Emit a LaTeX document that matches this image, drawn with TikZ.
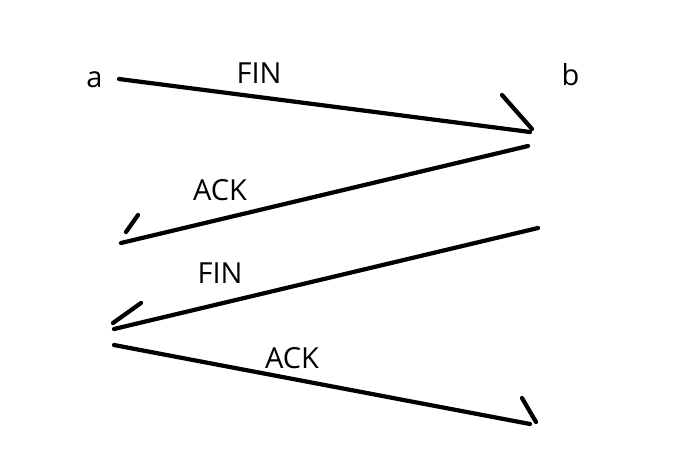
\documentclass[tikz,border=0pt]{standalone}
\usepackage{fontspec}
\setmainfont{Open Sans}
\tikzset{
  msg/.style={line width=2.4pt,line cap=round},
  lbl/.style={anchor=base,inner sep=0pt,font=\fontsize{16.5}{19}\selectfont}
}
\begin{document}
\begin{tikzpicture}[x=0.02cm,y=-0.02cm]
    \useasboundingbox (0,0) rectangle (682,471);
    % hosts
    \node[lbl] (a) at (94.5,87) {a};
    \node[lbl] (b) at (570.5,85) {b};
    % end points of the strokes
    \coordinate (s1) at (119,79);   \coordinate (e1) at (530,132);
    \coordinate (s2) at (528,146);  \coordinate (e2) at (121,243);
    \coordinate (s3) at (538,228);  \coordinate (e3) at (114,329);
    \coordinate (s4) at (114,345);  \coordinate (e4) at (530,424);
    % FIN: a to b
    \draw[msg] (s1) -- (e1);
    \draw[msg] (502,95) -- (532,129);
    \node[lbl] (fin1) at (259,83) {FIN};
    % ACK: b to a
    \draw[msg] (s2) -- (e2);
    \draw[msg] (138,215) -- (126,232);
    \node[lbl] (ack1) at (220,200) {ACK};
    % FIN: b to a
    \draw[msg] (s3) -- (e3);
    \draw[msg] (141,303) -- (113,323);
    \node[lbl] (fin2) at (220,283) {FIN};
    % ACK: a to b
    \draw[msg] (s4) -- (e4);
    \draw[msg] (522,398) -- (536,422);
    \node[lbl] (ack2) at (292,368) {ACK};
\end{tikzpicture}
\end{document}
